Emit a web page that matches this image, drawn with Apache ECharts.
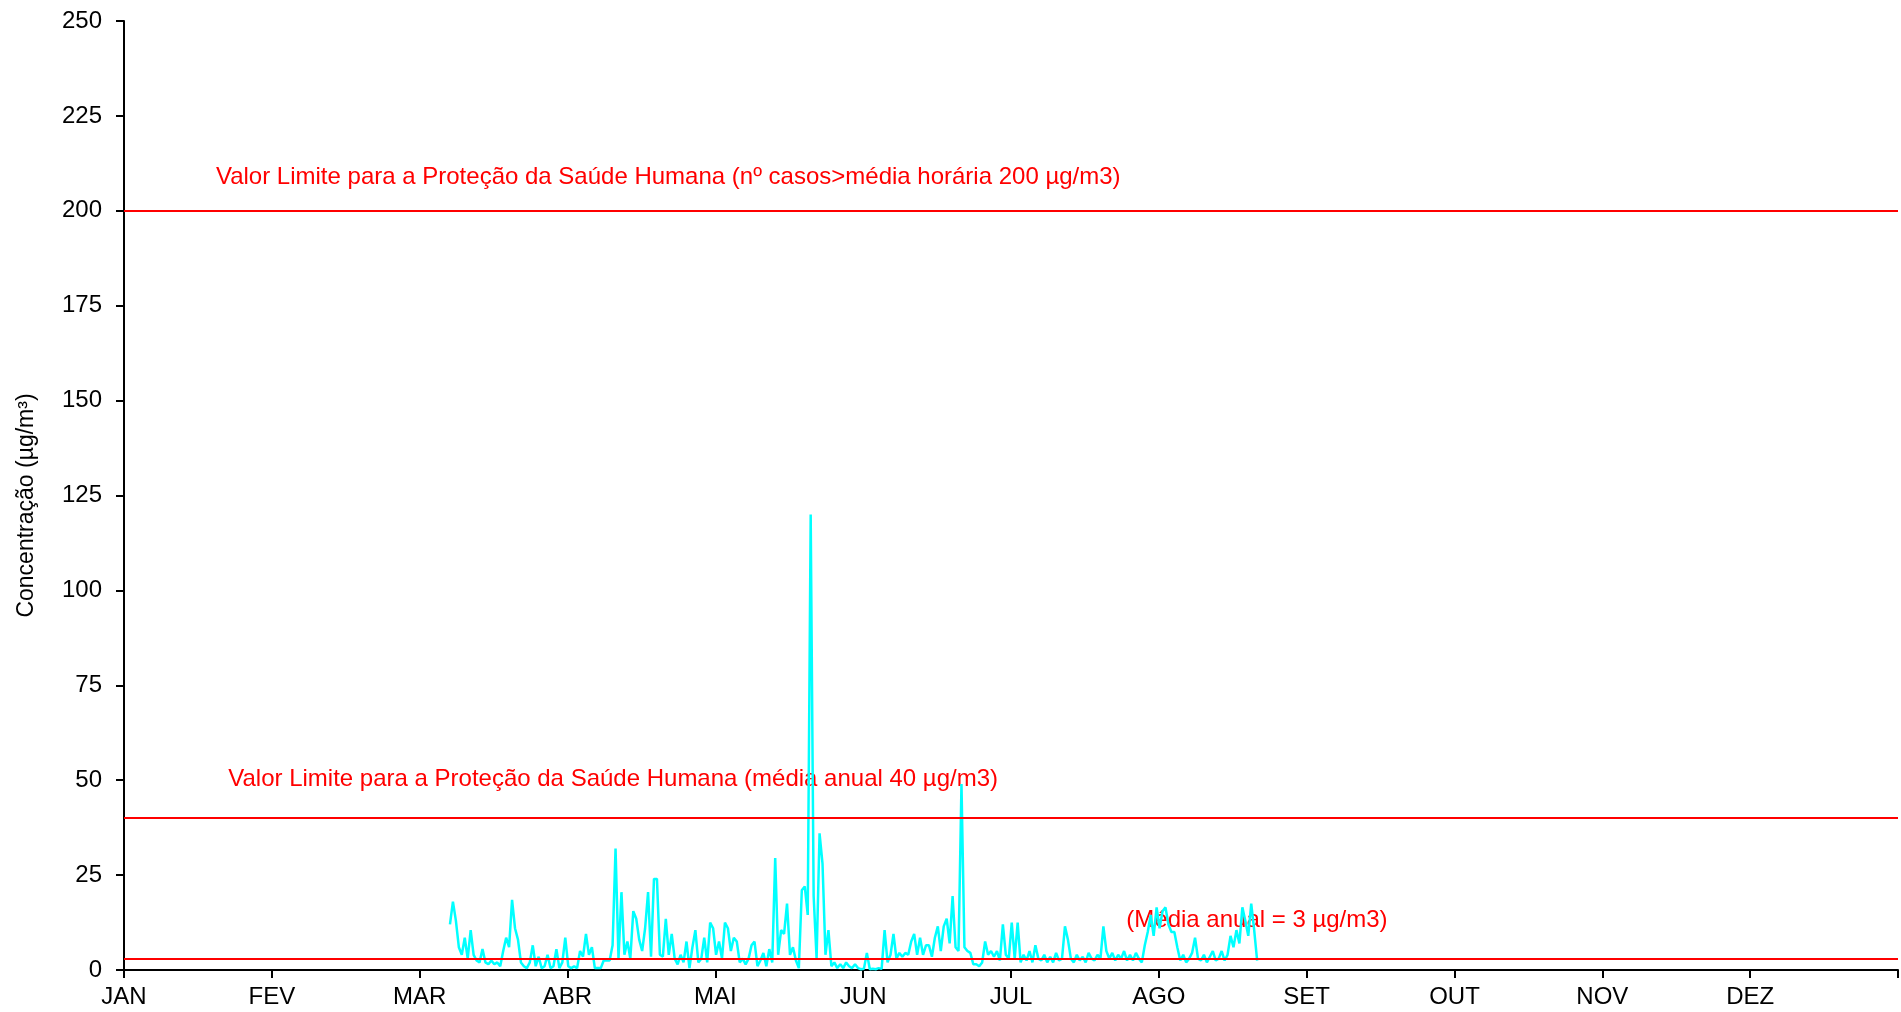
<!DOCTYPE html>
<html>
<head>
<meta charset="utf-8">
<script src="https://cdn.jsdelivr.net/npm/echarts@6/dist/echarts.min.js"></script>
<style>
  html, body { margin: 0; padding: 0; background: #fff; }
  #chart { width: 1901px; height: 1012px; }
</style>
</head>
<body>
<div id="chart"></div>
<script>
// month labels on the x axis (12 equal slots)
var months = ['JAN', 'FEV', 'MAR', 'ABR', 'MAI', 'JUN', 'JUL', 'AGO', 'SET', 'OUT', 'NOV', 'DEZ'];

// reference limits (µg/m3)
var limitValues = [200, 40, 3];
var limitTexts = [
  'Valor Limite para a Proteção da Saúde Humana (nº casos>média horária 200 µg/m3)',
  'Valor Limite para a Proteção da Saúde Humana (média anual 40 µg/m3)',
  '(Média anual = 3 µg/m3)'
];

// sampling of the measured series, in month units
var startMonth = 2.205;
var stepMonth = 0.02;

var concentration = [
  12, 18, 13, 6, 4, 8.5, 3, 10.5, 4, 2.5,
  2, 5.5, 2, 1.5, 2.5, 1.5, 2, 1, 5, 8.5,
  6, 18.5, 11, 8, 2, 1, 0.5, 2, 6.5, 1,
  3.5, 0.5, 1, 4, 0.5, 1, 5.5, 0.5, 2, 8.5,
  1, 0.5, 1, 0.5, 5, 3.5, 9.5, 4, 6, 0.5,
  0.5, 0.5, 2.5, 2.5, 2.5, 6.5, 32, 3, 20.5, 4,
  7.5, 3, 15.5, 13.5, 8, 5, 11, 20.5, 3.5, 24,
  24, 4, 3.5, 13.5, 4, 9.5, 3, 1.5, 4, 2,
  7.5, 0.5, 6, 10.5, 2, 3, 8.5, 2, 12.5, 11,
  4, 7.5, 3, 12.5, 11, 5, 8.5, 7.5, 2, 3,
  1.5, 3, 6.5, 7.5, 1, 2.5, 4.5, 1, 5.5, 2,
  29.5, 4, 10.5, 9.5, 17.5, 4, 6, 2.5, 0.5, 21,
  22, 14.5, 120, 19.5, 3, 36, 28, 4, 10.5, 1,
  2, 0.5, 1.5, 0.5, 2, 1, 0.5, 1.5, 0.5, 0.2,
  0.3, 4.5, 0.2, 0.3, 0.2, 0.5, 0.3, 10.5, 2, 4,
  9.5, 3, 4.5, 3.5, 4.5, 4, 7.5, 9.5, 4, 8.5,
  4, 6.5, 6.5, 3.5, 8.5, 11.5, 5, 11.5, 13.5, 7,
  19.5, 6, 5, 49, 6, 5, 4.5, 1.5, 1.5, 1,
  2, 7.5, 4, 5, 3.5, 5, 2.5, 12, 4, 3,
  12.5, 3, 12.5, 2, 4, 2.5, 5, 2, 6.5, 3,
  2.5, 4, 2, 3.5, 2, 4.5, 2.5, 3, 11.5, 8,
  3, 2, 4, 2.5, 3.5, 2, 4.5, 3, 2.5, 4,
  3, 11.5, 5, 3, 4.5, 2.5, 4, 3, 5, 2.5,
  4, 2.5, 4.5, 3, 2, 6.5, 10, 14.5, 9, 16.5,
  11, 15.5, 16.5, 12, 10, 10, 6, 2.5, 4, 2,
  3, 4.5, 8.5, 3, 2.5, 4, 2, 3.5, 5, 2.5,
  3, 5, 2.5, 4, 9, 6, 10.5, 7, 16.5, 13,
  9, 17.5, 10.5, 2.5
];

var seriesData = concentration.map(function (v, i) {
  return [startMonth + i * stepMonth, v];
});

var font = 'Liberation Sans, Arial, sans-serif';
var chart = echarts.init(document.getElementById('chart'), null, { renderer: 'canvas' });

var option = {
  animation: false,
  backgroundColor: '#fff',
  grid: { left: 124, right: 2, top: 21, bottom: 42, containLabel: false },
  xAxis: {
    type: 'value',
    min: 0,
    max: 12,
    interval: 1,
    splitLine: { show: false },
    axisLine: { show: true, onZero: false, lineStyle: { color: '#000', width: 2 } },
    axisTick: { show: true, inside: false, length: 8, lineStyle: { color: '#000', width: 2 } },
    axisLabel: {
      color: '#000', fontFamily: font, fontSize: 24, margin: 15,
      showMaxLabel: true,
      formatter: function (v) { return months[v] || ''; }
    }
  },
  yAxis: {
    type: 'value',
    min: 0,
    max: 250,
    interval: 25,
    name: 'Concentração (µg/m³)',
    nameLocation: 'middle',
    nameGap: 86,
    nameTextStyle: { color: '#000', fontFamily: font, fontSize: 23, padding: [0, 20, 0, 0] },
    splitLine: { show: false },
    axisLine: { show: true, lineStyle: { color: '#000', width: 2 } },
    axisTick: { show: true, inside: false, length: 8, lineStyle: { color: '#000', width: 2 } },
    axisLabel: { color: '#000', fontFamily: font, fontSize: 24, margin: 22 }
  },
  series: [
    {
      name: 'Concentração',
      type: 'line',
      data: seriesData,
      showSymbol: false,
      symbol: 'none',
      lineStyle: { color: '#00ffff', width: 2.5 },
      markLine: {
        silent: true,
        symbol: 'none',
        label: { show: false },
        lineStyle: { color: '#ff0000', width: 2, type: 'solid' },
        data: limitValues.map(function (v) { return { yAxis: v }; })
      }
    }
  ]
};
chart.setOption(option);

// red annotation texts, anchored in data space
var textAnchors = [[0.622, 208.9], [0.705, 50.2], [6.78, 13.2]];
chart.setOption({
  graphic: limitTexts.map(function (t, i) {
    var p = chart.convertToPixel({ gridIndex: 0 }, textAnchors[i]);
    return {
      type: 'text',
      x: p[0],
      y: p[1],
      style: {
        text: t,
        fill: '#ff0000',
        font: '24px ' + font,
        textVerticalAlign: 'middle',
        verticalAlign: 'middle'
      }
    };
  })
});
</script>
</body>
</html>
